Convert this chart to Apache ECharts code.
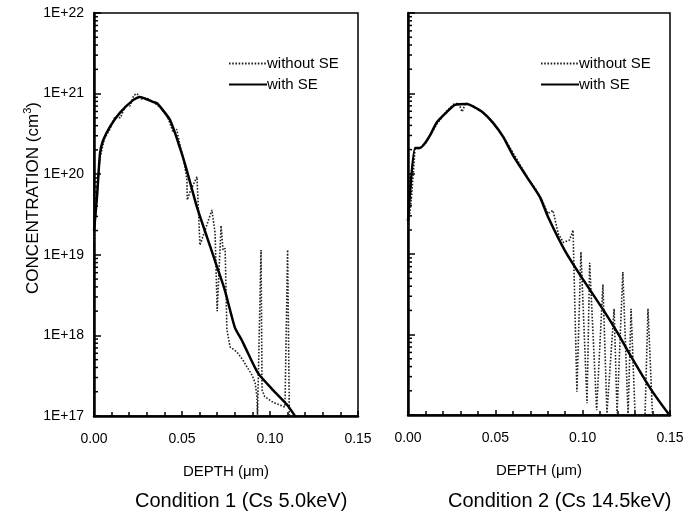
<!DOCTYPE html>
<html>
<head>
<meta charset="utf-8">
<script src="https://cdn.jsdelivr.net/npm/echarts@6/dist/echarts.min.js"></script>
<style>html,body{margin:0;padding:0;background:#fff}#c{width:696px;height:517px}</style>
</head>
<body>
<div id="c"></div>
<script>
// ---- Data ----
// Condition 1 (Cs 5.0keV)
const depthC1With = [0, 0.0017, 0.0034, 0.0051, 0.0091, 0.0148, 0.0222, 0.0261, 0.0335, 0.0358, 0.0432, 0.0489, 0.0528, 0.0585, 0.0642, 0.0699, 0.0744, 0.0800, 0.0840, 0.0858, 0.0932, 0.1017, 0.1097, 0.1142];
const concC1With  = [2.0e19, 5.2e19, 1.8e20, 2.6e20, 3.9e20, 5.8e20, 8.3e20, 9.1e20, 7.9e20, 7.6e20, 4.7e20, 2.1e20, 1.1e20, 3.9e19, 1.66e19, 7.1e18, 3.6e18, 1.26e18, 8.7e17, 7.2e17, 3.4e17, 2.1e17, 1.38e17, 1.0e17];
const depthC1Without = [0, 0.0017, 0.0034, 0.006, 0.009, 0.012, 0.015, 0.018, 0.0205, 0.0225, 0.0244, 0.027, 0.030, 0.034, 0.038, 0.042, 0.045, 0.047, 0.049, 0.051, 0.0528, 0.0530, 0.0545, 0.0585, 0.0602, 0.067, 0.0688, 0.0700, 0.0722, 0.0733, 0.0745, 0.0755, 0.0773, 0.0813, 0.0847, 0.0898, 0.0915, 0.0926, 0.0929, 0.0940, 0.0949, 0.0955, 0.0970, 0.1017, 0.1085, 0.1100, 0.1110, 0.1130];
const concC1Without  = [1.5e19, 6.0e19, 1.6e20, 2.8e20, 3.6e20, 5.2e20, 5.0e20, 7.2e20, 7.0e20, 9.5e20, 1.0e21, 8.6e20, 8.8e20, 7.8e20, 6.6e20, 5.0e20, 3.3e20, 3.6e20, 2.2e20, 1.5e20, 8.5e19, 4.8e19, 6.0e19, 9.3e19, 1.32e19, 3.6e19, 1.86e19, 2.0e18, 2.3e19, 1.15e19, 1.2e19, 1.2e18, 7.2e17, 6.2e17, 4.9e17, 3.2e17, 2.6e17, 1.74e17, 1.0e17, 1.0e17, 1.15e19, 2.1e17, 1.74e17, 1.48e17, 1.29e17, 1.15e19, 1.0e17, 1.0e17];
// Condition 2 (Cs 14.5keV)
const depthC2With = [0, 0.004, 0.0069, 0.0097, 0.0126, 0.0166, 0.0223, 0.0269, 0.0338, 0.0372, 0.0429, 0.0487, 0.0544, 0.0601, 0.0681, 0.0756, 0.0802, 0.0899, 0.0998, 0.1120, 0.1200, 0.1280, 0.1390, 0.1489, 0.150];
const concC2With  = [2.6e19, 2.1e20, 2.1e20, 2.4e20, 3.0e20, 4.4e20, 5.9e20, 7.2e20, 7.4e20, 6.9e20, 5.8e20, 4.3e20, 2.9e20, 1.7e20, 9.1e19, 5.1e19, 2.9e19, 1.1e19, 5.0e18, 2.0e18, 1.05e18, 5.2e17, 2.1e17, 1.05e17, 1.0e17];
const depthC2Without = [0, 0.002, 0.004, 0.007, 0.010, 0.013, 0.017, 0.022, 0.026, 0.029, 0.031, 0.033, 0.037, 0.043, 0.049, 0.055, 0.061, 0.068, 0.073, 0.077, 0.080, 0.083, 0.086, 0.089, 0.0925, 0.0945, 0.0967, 0.0990, 0.1025, 0.1040, 0.1080, 0.1116, 0.1139, 0.1180, 0.1197, 0.1230, 0.1260, 0.1277, 0.1300, 0.1357, 0.1374, 0.1400, 0.150];
const concC2Without  = [2.0e19, 5.0e19, 2.0e20, 2.1e20, 2.4e20, 3.1e20, 4.3e20, 6.0e20, 7.3e20, 7.6e20, 5.9e20, 7.6e20, 7.0e20, 5.8e20, 4.3e20, 2.8e20, 1.7e20, 9.3e19, 6.5e19, 4.6e19, 3.2e19, 3.5e19, 1.8e19, 1.4e19, 1.5e19, 2.0e19, 1.95e17, 1.07e19, 1.4e17, 7.8e18, 1.15e17, 4.2e18, 1.05e17, 2.1e18, 1.05e17, 6.0e18, 1.0e17, 2.1e18, 1.0e17, 1.0e17, 2.1e18, 1.0e17, 1.0e17];

const xTickLabels = ['0.00', '0.05', '0.10', '0.15'];
const yDecades = [17, 18, 19, 20, 21, 22];
const legendNames = ['without SE', 'with SE'];
const conditionTitles = ['Condition 1 (Cs 5.0keV)', 'Condition 2 (Cs 14.5keV)'];
const yTitle = 'CONCENTRATION (cm{sup|3})';

// ---- Chart ----
const FONT = '"Liberation Sans", Arial, Helvetica, sans-serif';
const pairs = (xs, ys) => xs.map((x, i) => [x, ys[i]]);
const minorVals = [];
yDecades.slice(0, -1).forEach(d => { for (let k = 2; k <= 9; k++) minorVals.push([0, k * Math.pow(10, d)]); });

const chart = echarts.init(document.getElementById('c'), null, { renderer: 'canvas' });

function xAxisDef(gi) {
  return {
    gridIndex: gi, type: 'value', min: 0, max: 0.15, interval: 0.05,
    name: 'DEPTH (\u03bcm)', nameLocation: 'middle', nameGap: 48,
    nameTextStyle: { fontFamily: FONT, fontSize: 15, color: '#000' },
    axisLine: { show: true, lineStyle: { color: '#000', width: 2.5 } },
    axisTick: { show: true, inside: true, length: 5, lineStyle: { color: '#000', width: 1.5 } },
    minorTick: { show: true, splitNumber: 5, length: 4, lineStyle: { color: '#000', width: 1.5 } },
    splitLine: { show: false }, minorSplitLine: { show: false },
    axisLabel: { margin: 16, fontFamily: FONT, fontSize: 14, color: '#000',
      formatter: v => xTickLabels[Math.round(v / 0.05)] }
  };
}
function yAxisDef(gi, showLabels) {
  return {
    gridIndex: gi, type: 'log', logBase: 10, min: 1e17, max: 1e22,
    axisLine: { show: true, lineStyle: { color: '#000', width: 2.5 } },
    axisTick: { show: true, inside: true, length: 7, lineStyle: { color: '#000', width: 1.5 } },
    splitLine: { show: false },
    axisLabel: { show: showLabels, margin: 10, fontFamily: FONT, fontSize: 14, color: '#000',
      formatter: v => '1E+' + Math.round(Math.log10(v)) }
  };
}
function minorTickSeries(gi) {
  return {
    type: 'custom', xAxisIndex: gi, yAxisIndex: gi, silent: true, clip: false,
    data: minorVals,
    renderItem: (params, api) => {
      const p = api.coord([api.value(0), api.value(1)]);
      return { type: 'line', shape: { x1: p[0], y1: p[1], x2: p[0] + 4, y2: p[1] },
        style: { stroke: '#000', lineWidth: 1.5 } };
    }
  };
}
const withStyle = { color: '#000', width: 2.5, type: 'solid' };
const withoutStyle = { color: '#222', width: 1.6, type: [1.6, 1.6] };
function lineSeries(name, gi, data, style) {
  const solid = name === 'with SE';
  return { name, type: 'line', xAxisIndex: gi, yAxisIndex: gi, data, showSymbol: false, symbol: 'none',
    smooth: solid ? 0.2 : false,
    lineStyle: style, itemStyle: { color: style.color }, emphasis: { disabled: true }, z: solid ? 3 : 2 };
}
function legendDef(left) {
  return { left, top: 51, orient: 'vertical', itemWidth: 38, itemHeight: 14, itemGap: 6,
    data: legendNames, itemStyle: { opacity: 0 },
    textStyle: { fontFamily: FONT, fontSize: 15, color: '#000', padding: [0, 0, 0, -5] },
    selectedMode: false };
}

chart.setOption({
  animation: false,
  backgroundColor: '#fff',
  grid: [
    { left: 94, top: 13, width: 264, height: 403, show: true, borderColor: '#000', borderWidth: 1.5, backgroundColor: 'transparent' },
    { left: 408, top: 13, width: 262, height: 402, show: true, borderColor: '#000', borderWidth: 1.5, backgroundColor: 'transparent' }
  ],
  xAxis: [xAxisDef(0), xAxisDef(1)],
  yAxis: [yAxisDef(0, true), yAxisDef(1, false)],
  legend: [legendDef(223), legendDef(535)],
  series: [
    lineSeries('without SE', 0, pairs(depthC1Without, concC1Without), withoutStyle),
    lineSeries('with SE', 0, pairs(depthC1With, concC1With), withStyle),
    lineSeries('without SE', 1, pairs(depthC2Without, concC2Without), withoutStyle),
    lineSeries('with SE', 1, pairs(depthC2With, concC2With), withStyle),
    minorTickSeries(0), minorTickSeries(1)
  ],
  graphic: [
    { type: 'text', x: 33, y: 198, rotation: Math.PI / 2,
      style: { text: yTitle, align: 'center', verticalAlign: 'middle', font: '17px ' + FONT, fill: '#000',
        rich: { sup: { fontFamily: FONT, fontSize: 11, fill: '#000', verticalAlign: 'top', padding: [0, 0, 10, 0] } } } },
    { type: 'text', left: 135, top: 491, style: { text: conditionTitles[0], font: '20px ' + FONT, fill: '#000' } },
    { type: 'text', left: 448, top: 491, style: { text: conditionTitles[1], font: '20px ' + FONT, fill: '#000' } }
  ]
});
</script>
</body>
</html>
